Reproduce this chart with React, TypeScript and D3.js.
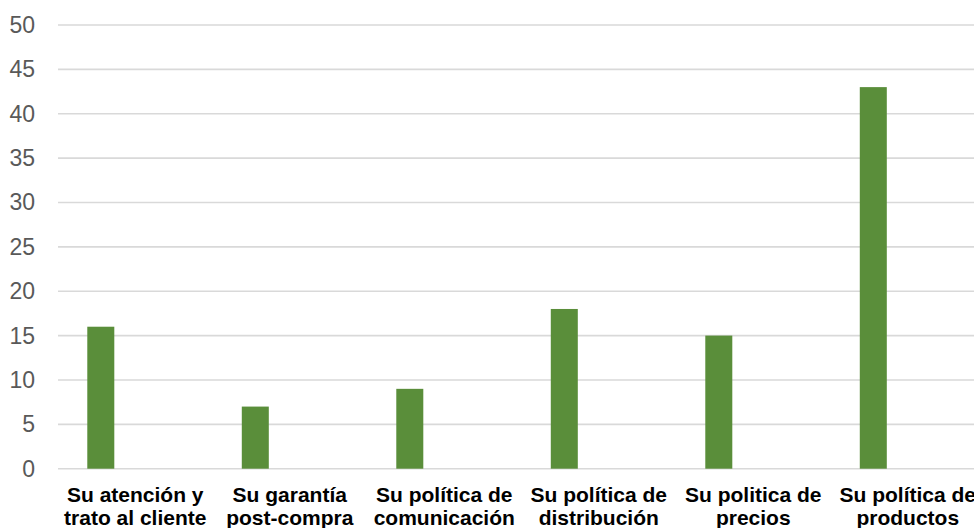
import React from "react";
import * as d3 from "d3";

// Survey categories (two-line labels) and their counts
const categories: string[][] = [
  ["Su atención y", "trato al cliente"],
  ["Su garantía", "post-compra"],
  ["Su política de", "comunicación"],
  ["Su política de", "distribución"],
  ["Su politica de", "precios"],
  ["Su política de", "productos"],
];
const values: number[] = [16, 7, 9, 18, 15, 43];
const yTicks: number[] = [0, 5, 10, 15, 20, 25, 30, 35, 40, 45, 50];
// second (empty) series slot that keeps each bar to the left of its category
const seriesSlots: string[] = ["valor", "vacío"];

const W = 974;
const H = 528;
const left = 58;
const plotRight = 985;
const top = 25;
const bottom = 468.7;

export default function App() {
  const keys = categories.map((_, i) => String(i));
  const x = d3.scaleBand<string>().domain(keys).range([left, plotRight]).padding(0);
  const inner = d3
    .scaleBand<string>()
    .domain(seriesSlots)
    .range([0, x.bandwidth()])
    .paddingInner(0.608)
    .paddingOuter(0.425);
  const y = d3.scaleLinear().domain([0, 50]).range([bottom, top]);

  return (
    <svg
      width={W}
      height={H}
      style={{ position: "absolute", left: 0, top: 0, background: "#fff" }}
      fontFamily="'Liberation Sans', Arial, sans-serif"
    >
      <g>
        {yTicks.map((t) => (
          <g key={t}>
            <line x1={left} x2={plotRight} y1={y(t)} y2={y(t)} stroke="#d9d9d9" strokeWidth={1.6} />
            <text
              x={35}
              y={y(t)}
              textAnchor="end"
              dominantBaseline="central"
              fontSize={23}
              fill="#595959"
            >
              {t}
            </text>
          </g>
        ))}
      </g>
      <g>
        {values.map((v, i) => (
          <rect
            key={i}
            x={(x(String(i)) ?? 0) + (inner(seriesSlots[0]) ?? 0)}
            y={y(v)}
            width={inner.bandwidth()}
            height={y(0) - y(v)}
            fill="#5a8e3a"
          />
        ))}
      </g>
      <g>
        {categories.map((lines, i) => {
          const cx = (x(String(i)) ?? 0) + x.bandwidth() / 2;
          return (
            <text key={i} x={cx} textAnchor="middle" fontSize={21} fontWeight="bold" fill="#000">
              {lines.map((ln, j) => (
                <tspan key={j} x={cx} y={502 + j * 22.5}>
                  {ln}
                </tspan>
              ))}
            </text>
          );
        })}
      </g>
    </svg>
  );
}
